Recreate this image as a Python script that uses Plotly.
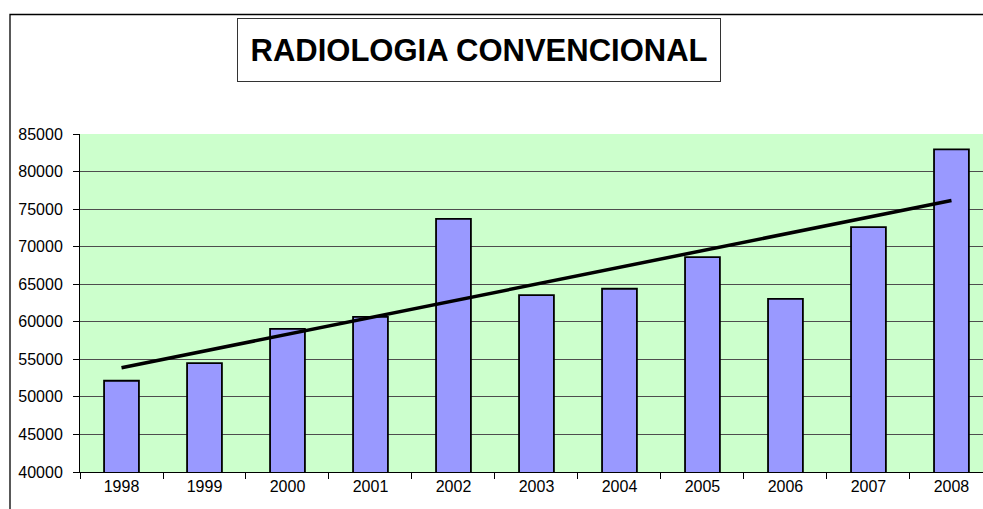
import numpy as np
import plotly.graph_objects as go

# values
years = ['1998', '1999', '2000', '2001', '2002', '2003',
         '2004', '2005', '2006', '2007', '2008']
exams = [52150, 54500, 59050, 60650, 73700, 63550,
         64400, 68600, 63050, 72600, 82950]
y_ticks = [40000, 45000, 50000, 55000, 60000, 65000, 70000, 75000, 80000, 85000]

title_text = 'RADIOLOGIA CONVENCIONAL'

# linear trend line, like the Excel one
idx = np.arange(len(years))
slope, intercept = np.polyfit(idx, exams, 1)
trend = slope * idx + intercept

W, H = 983, 509
L, T, B = 80, 134, 37      # plot area: x 80..(past right edge), y 134..472
plot_w = W - L
plot_h = H - T - B


def px_to_paper(x, y):
    """Convert window pixel position to paper coordinates."""
    return (x - L) / plot_w, (H - B - y) / plot_h


fig = go.Figure()

fig.add_trace(go.Bar(
    x=years,
    y=exams,
    width=0.42,
    marker=dict(color='#9999FF', line=dict(color='black', width=1.8)),
    hoverinfo='x+y',
))

fig.add_trace(go.Scatter(
    x=years,
    y=trend,
    mode='lines',
    line=dict(color='black', width=3.5),
    hoverinfo='skip',
))

# outer chart frame (only left and top edges are visible)
fx0, fy0 = px_to_paper(10, 14.5)
fx1, fy1 = px_to_paper(W + 40, H + 40)
fig.add_shape(type='rect', xref='paper', yref='paper',
              x0=fx0, y0=fy1, x1=fx1, y1=fy0,
              line=dict(color='black', width=1.3), layer='below')

# boxed title
tx, ty = px_to_paper(479, 50)
fig.add_annotation(
    xref='paper', yref='paper', x=tx, y=ty,
    xanchor='center', yanchor='middle',
    text='<b>' + title_text + '</b>',
    showarrow=False,
    font=dict(family='Liberation Sans, Arial', size=31, color='black'),
    width=480, height=60,
    bordercolor='#333333', borderwidth=1, bgcolor='white',
)

fig.update_layout(
    width=W, height=H,
    margin=dict(l=L, r=0, t=T, b=B),
    paper_bgcolor='white',
    plot_bgcolor='#CCFFCC',
    showlegend=False,
    bargap=0.58,
    font=dict(family='Liberation Sans, Arial', size=16, color='black'),
)

fig.update_xaxes(
    type='category',
    range=[-0.5, 10.38],
    showline=True, linecolor='black', linewidth=1,
    ticks='outside', tickson='boundaries', ticklen=6,
    tickcolor='black', tickwidth=1,
    showgrid=False,
    tickfont=dict(size=16),
)

fig.update_yaxes(
    range=[40000, 85000],
    tickvals=y_ticks,
    ticktext=[str(v) for v in y_ticks],
    showline=True, linecolor='black', linewidth=1,
    ticks='outside', ticklen=6, tickcolor='black', tickwidth=1,
    showgrid=True, gridcolor='#4d4d4d', gridwidth=1,
    zeroline=False,
    ticklabelstandoff=7,
    tickfont=dict(size=16),
)

# drop the default page margin so the chart sits at the window origin
fig.write_html(
    'out.html',
    config={'displayModeBar': False},
    post_script="document.body.style.margin='0';"
                "document.body.style.overflow='hidden';",
)
